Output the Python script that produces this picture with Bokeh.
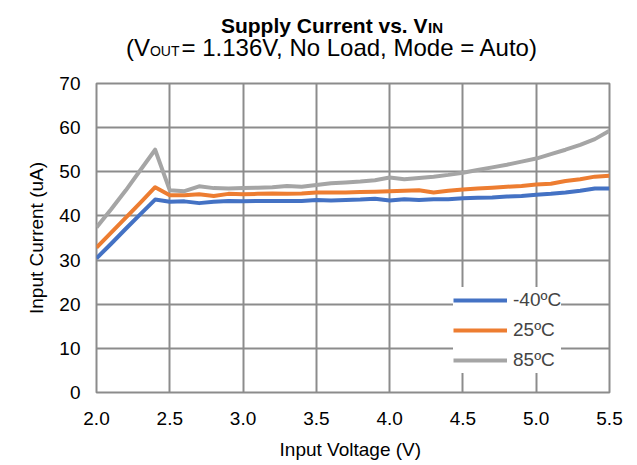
from bokeh.plotting import figure
from bokeh.layouts import column
from bokeh.models import Legend, LegendItem, FixedTicker, Range1d, CustomJSTickFormatter
from bokeh.core.properties import value
from bokeh.embed import file_html
from bokeh.resources import INLINE

vin = [2.0, 2.1, 2.2, 2.3, 2.4, 2.5, 2.6, 2.7, 2.8, 2.9,
       3.0, 3.1, 3.2, 3.3, 3.4, 3.5, 3.6, 3.7, 3.8, 3.9,
       4.0, 4.1, 4.2, 4.3, 4.4, 4.5, 4.6, 4.7, 4.8, 4.9,
       5.0, 5.1, 5.2, 5.3, 5.4, 5.5]
i_m40 = [30.4, 33.7, 37.1, 40.4, 43.7, 43.2, 43.3, 42.9, 43.2, 43.4,
         43.3, 43.4, 43.4, 43.4, 43.4, 43.6, 43.5, 43.6, 43.7, 43.9,
         43.5, 43.8, 43.6, 43.8, 43.8, 44.0, 44.1, 44.2, 44.4, 44.5,
         44.8, 45.0, 45.3, 45.7, 46.2, 46.2]
i_25 = [32.8, 36.2, 39.6, 43.0, 46.5, 44.7, 44.7, 44.9, 44.5, 45.0,
        44.9, 45.0, 45.1, 45.0, 45.1, 45.3, 45.3, 45.3, 45.4, 45.5,
        45.6, 45.7, 45.8, 45.3, 45.7, 46.0, 46.2, 46.4, 46.6, 46.8,
        47.1, 47.3, 47.9, 48.3, 48.9, 49.1]
i_85 = [37.4, 41.5, 45.8, 50.4, 55.0, 45.8, 45.6, 46.7, 46.3, 46.2,
        46.3, 46.4, 46.5, 46.8, 46.6, 47.0, 47.4, 47.6, 47.8, 48.1,
        48.7, 48.3, 48.6, 48.9, 49.3, 49.8, 50.4, 51.0, 51.6, 52.3,
        53.0, 54.0, 55.0, 56.1, 57.4, 59.3]
series_names = ["-40ºC", "25ºC", "85ºC"]
series_colors = ["#4472C4", "#ED7D31", "#A5A5A5"]
x_ticks = [2.0, 2.5, 3.0, 3.5, 4.0, 4.5, 5.0, 5.5]
y_ticks = [0, 10, 20, 30, 40, 50, 60, 70]
title_parts = ["Supply Current vs. V", "IN"]
subtitle_parts = ["(V", "OUT", " = 1.136V, No Load, Mode = Auto)"]

FONT = "Liberation Sans"
GRID = "#8C8C8C"
W, H = 637, 465
TH = 68
BL, BR = 96, W - 96 - 513

# ---- title strip (frame is aligned with the chart frame: data x == pixel x) ----
t = figure(width=W, height=TH, output_backend="svg", toolbar_location=None,
           x_range=Range1d(BL, BL + 513), y_range=Range1d(TH, 0),
           min_border=0, min_border_left=BL, min_border_right=BR,
           min_border_top=0, min_border_bottom=0)
t.axis.visible = False
t.grid.visible = False
t.outline_line_color = None
t.background_fill_color = "white"
t.border_fill_color = "white"


def txt(x, y, s, size, align, bold=False):
    t.text(x=[x], y=[y], text=[s], text_font=value(FONT), text_font_size=f"{size}px",
           text_font_style="bold" if bold else "normal", text_color="black",
           text_align=align, text_baseline="alphabetic")


# title: "Supply Current vs. V" + subscript "IN"
v_end = 427
txt(v_end, 25, title_parts[0], 21, "right", True)
txt(v_end + 0.5, 27, title_parts[1], 15, "left", True)

# subtitle: "(V" + subscript "OUT" + rest
rest_start = 181
out_w = 2.111 * 14
txt(rest_start, 47, subtitle_parts[2], 24, "left")
txt(rest_start - 2, 50, subtitle_parts[1], 14, "right")
txt(rest_start - 2 - out_w, 47, subtitle_parts[0], 24, "right")

# ---- main chart ----
p = figure(width=W, height=H - TH, output_backend="svg", toolbar_location=None,
           x_range=Range1d(2.0, 5.5), y_range=Range1d(0, 70),
           min_border_left=BL, min_border_right=BR,
           min_border_top=83 - TH, min_border_bottom=H - TH - (83 - TH) - 309)
p.background_fill_color = "white"
p.border_fill_color = "white"
p.outline_line_color = GRID
p.outline_line_width = 2

for ax, ticks in ((p.xaxis[0], x_ticks), (p.yaxis[0], y_ticks)):
    ax.ticker = FixedTicker(ticks=ticks)
    ax.axis_line_color = None
    ax.major_tick_line_color = None
    ax.minor_tick_line_color = None
    ax.major_tick_out = 0
    ax.major_tick_in = 0
    ax.major_label_text_font = FONT
    ax.major_label_text_font_size = "19px"
    ax.major_label_text_color = "#000000"
    ax.axis_label_text_font = FONT
    ax.axis_label_text_font_size = "19px"
    ax.axis_label_text_font_style = "normal"
    ax.axis_label_text_color = "#000000"

p.xaxis[0].formatter = CustomJSTickFormatter(code="return tick.toFixed(1);")
p.xaxis[0].axis_label = "Input Voltage  (V)"
p.yaxis[0].axis_label = "Input Current (uA)"
p.xaxis[0].major_label_standoff = 19
p.yaxis[0].major_label_standoff = 16
p.xaxis[0].axis_label_standoff = 11
p.yaxis[0].axis_label_standoff = 9

p.xgrid[0].ticker = FixedTicker(ticks=x_ticks)
p.ygrid[0].ticker = FixedTicker(ticks=y_ticks)
p.grid.grid_line_color = GRID
p.grid.grid_line_width = 2

renderers = []
for ys, c in zip((i_m40, i_25, i_85), series_colors):
    r = p.line(vin, ys, line_color=c, line_width=4, line_join="round")
    renderers.append(r)

legend = Legend(items=[LegendItem(label=n, renderers=[r]) for n, r in zip(series_names, renderers)],
                location=(357, 19), orientation="vertical",
                glyph_width=54, glyph_height=26, label_height=26, spacing=4,
                label_standoff=6, padding=6, margin=0,
                label_text_font=FONT, label_text_font_size="19px",
                border_line_color=None, background_fill_color="white", background_fill_alpha=1.0)
p.add_layout(legend, "center")

layout = column(t, p, spacing=0)
open("out.html", "w").write(file_html(layout, INLINE))
